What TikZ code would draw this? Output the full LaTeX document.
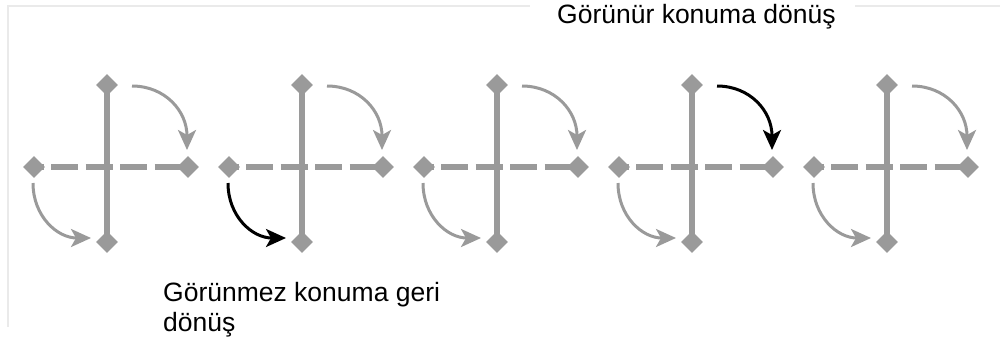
\documentclass[tikz,border=0pt]{standalone}
\usepackage{fontspec}
\setmainfont{Liberation Sans}
\usetikzlibrary{shapes.geometric,arrows.meta,backgrounds}
\definecolor{cg}{RGB}{154,154,154}
\definecolor{bd}{RGB}{234,234,234}
\begin{document}
\begin{tikzpicture}[x=1pt,y=-1pt,
  dia/.style={diamond,fill=cg,inner sep=0pt,minimum size=22pt},
  bar/.style={cg,line width=5.5pt},
  dbar/.style={cg,line width=5.5pt,dash pattern=on 27pt off 7.5pt,dash phase=17.5pt},
  arr/.style={line width=3pt,-{Stealth[length=20pt,width=18pt,inset=5pt]}},
  lbl/.style={font=\fontsize{26.5}{30}\selectfont,inner sep=0pt,text=black}]
\useasboundingbox (0,0) rectangle (1000,338);
\draw[bd,line width=2pt] (8,327) -- (8,6) -- (530,6);
\draw[bd,line width=2pt] (855,6) -- (1000,6);
\foreach \i/\ctop/\cbot in {1/cg/cg,2/cg/black,3/cg/cg,4/black/cg,5/cg/cg}{
  \pgfmathsetmacro\vx{107+195*(\i-1)}
  \node[dia] (t\i) at (\vx,85) {};
  \node[dia] (b\i) at (\vx,242) {};
  \node[dia] (l\i) at (\vx-73,167) {};
  \node[dia] (r\i) at (\vx+81,167) {};
  \begin{pgfonlayer}{background}
    \draw[dbar] (l\i.center) -- (r\i.center);
    \draw[bar] (t\i.center) -- (b\i.center);
  \end{pgfonlayer}
  \coordinate (ts\i) at (\vx+25,86);
  \coordinate (te\i) at (\vx+80,150);
  \coordinate (bs\i) at (\vx-74,183);
  \coordinate (be\i) at (\vx-16,238);
  \draw[arr,\ctop] (ts\i) .. controls (\vx+58,86) and (\vx+80,111) .. (te\i);
  \draw[arr,\cbot] (bs\i) .. controls (\vx-74,216) and (\vx-50,238) .. (be\i);
}
\node[lbl,anchor=base west] (top) at (557,23) {Görünür konuma dönüş};
\node[lbl,anchor=north west,align=left] (bot) at (163,282) {Görünmez konuma geri\\dönüş};
\end{tikzpicture}
\end{document}
